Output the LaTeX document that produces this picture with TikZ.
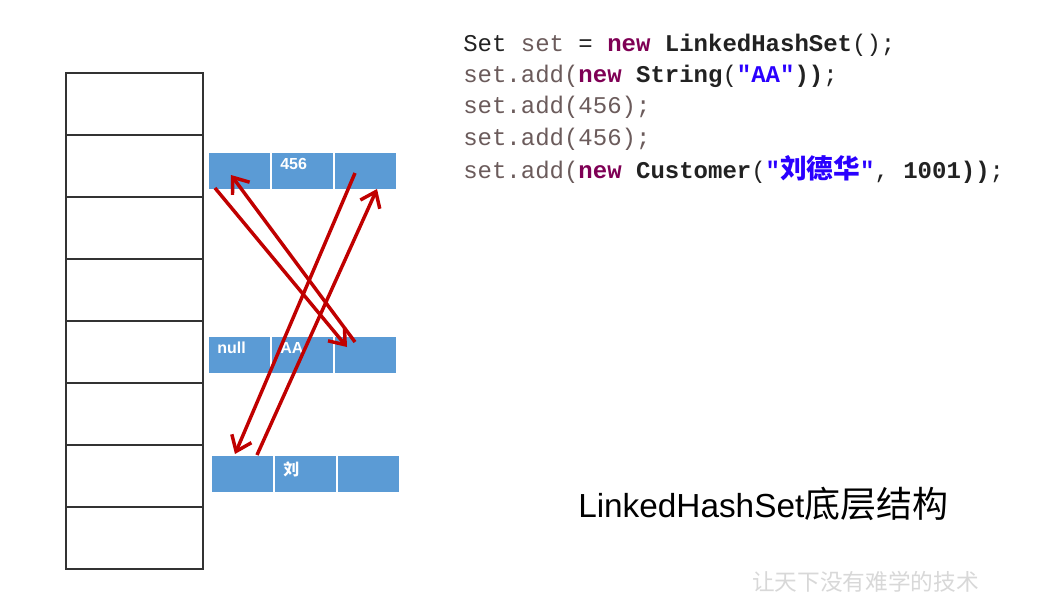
\documentclass[tikz,border=0pt]{standalone}
\usepackage{fontspec}
\setmainfont{Liberation Sans}
\setmonofont{Liberation Mono}
\newfontfamily\cjk{Noto Sans CJK SC}
\usetikzlibrary{arrows.meta}
\definecolor{cellblue}{HTML}{5B9BD5}
\definecolor{arrred}{HTML}{C00000}
\definecolor{kw}{HTML}{7F0055}
\definecolor{strc}{HTML}{2A00FF}
\definecolor{codedark}{HTML}{222222}
\definecolor{vargray}{HTML}{6B5B5B}
\definecolor{slotline}{HTML}{333333}
\definecolor{wmark}{HTML}{D8D8D8}
\newcommand{\kwd}[1]{\textcolor{kw}{\bfseries #1}}
\newcommand{\cls}[1]{\textcolor{codedark}{\bfseries #1}}
\newcommand{\vr}[1]{\textcolor{vargray}{#1}}
\newcommand{\strg}[1]{\textcolor{strc}{\bfseries #1}}
\begin{document}
\begin{tikzpicture}[x=0.75pt,y=-0.75pt,
  slot/.style={draw=slotline, line width=0.9pt, fill=white, minimum width=102.75pt, minimum height=46.5pt, anchor=north west, outer sep=0pt, inner sep=0pt},
  cell/.style={draw=white, line width=1.1pt, fill=cellblue, minimum width=47.25pt, minimum height=28.5pt, anchor=north west, outer sep=0pt, inner sep=0pt},
  celltext/.style={anchor=north west, inner sep=0pt, text=white, font=\fontsize{12pt}{14pt}\selectfont\bfseries, xshift=6.75pt, yshift=-4.5pt},
  link/.style={draw=arrred, line width=2.6pt, -{Straight Barb[length=10.5pt,width=16pt,line width=2.6pt]}},
  codeline/.style={anchor=base west, inner sep=0pt, font=\fontsize{18pt}{22pt}\selectfont\ttfamily, text=codedark},
  title/.style={anchor=base west, inner sep=0pt, font=\fontsize{25pt}{30pt}\selectfont, text=black},
  watermark/.style={anchor=base west, inner sep=0pt, font=\cjk\fontsize{17pt}{20pt}\selectfont, text=wmark}
]
\useasboundingbox (0,0) rectangle (1042,608);
\fill[white] (0,0) rectangle (1042,608);

% hash table slots
\foreach \i in {0,...,7} {
  \node[slot] (s\i) at (66,73+62*\i) {};
}

% entry 456
\node[cell] (n1a) at (208,152) {};
\node[cell] (n1b) at (271,152) {};
\node[cell] (n1c) at (334,152) {};
\node[celltext] (t1) at (n1b.north west) {456};

% entry AA
\node[cell] (n2a) at (208,336) {};
\node[cell] (n2b) at (271,336) {};
\node[cell] (n2c) at (334,336) {};
\node[celltext] (t2a) at (n2a.north west) {null};
\node[celltext] (t2b) at (n2b.north west) {AA};

% entry Customer
\node[cell] (n3a) at (211,455) {};
\node[cell] (n3b) at (274,455) {};
\node[cell] (n3c) at (337,455) {};
\node[celltext, font=\cjk\fontsize{12pt}{14pt}\selectfont\bfseries] (t3) at (n3b.north west) {刘};

% link endpoints
\coordinate (a1s) at (215,188);
\coordinate (a1e) at (347,347);
\coordinate (b1s) at (355,342);
\coordinate (b1e) at (231,175);
\coordinate (c1s) at (355,173);
\coordinate (c1e) at (235,454);
\coordinate (d1s) at (257,455);
\coordinate (d1e) at (377,189);

\draw[link] (a1s) -- (a1e);
\draw[link] (b1s) -- (b1e);
\draw[link] (c1s) -- (c1e);
\draw[link] (d1s) -- (d1e);

% code
\node[codeline] (l1) at (463,51) {Set \vr{set} = \kwd{new} \cls{LinkedHashSet}();};
\node[codeline] (l2) at (463,82) {\vr{set.add(}\kwd{new} \cls{String}(\strg{"AA"}\cls{))};};
\node[codeline] (l3) at (463,113) {\vr{set.add(456);}};
\node[codeline] (l4) at (463,145) {\vr{set.add(456);}};
\node[codeline] (l5) at (463,178) {\vr{set.add(}\kwd{new} \cls{Customer}(\strg{"{\cjk\fontsize{20pt}{22pt}\selectfont 刘德华}"}, \cls{1001))};};

% title
\node[title] (ttl) at (578,517) {LinkedHashSet{\cjk\fontsize{27pt}{30pt}\selectfont 底层结构}};

% watermark
\node[watermark] (wm) at (752,590) {让天下没有难学的技术};
\end{tikzpicture}
\end{document}
